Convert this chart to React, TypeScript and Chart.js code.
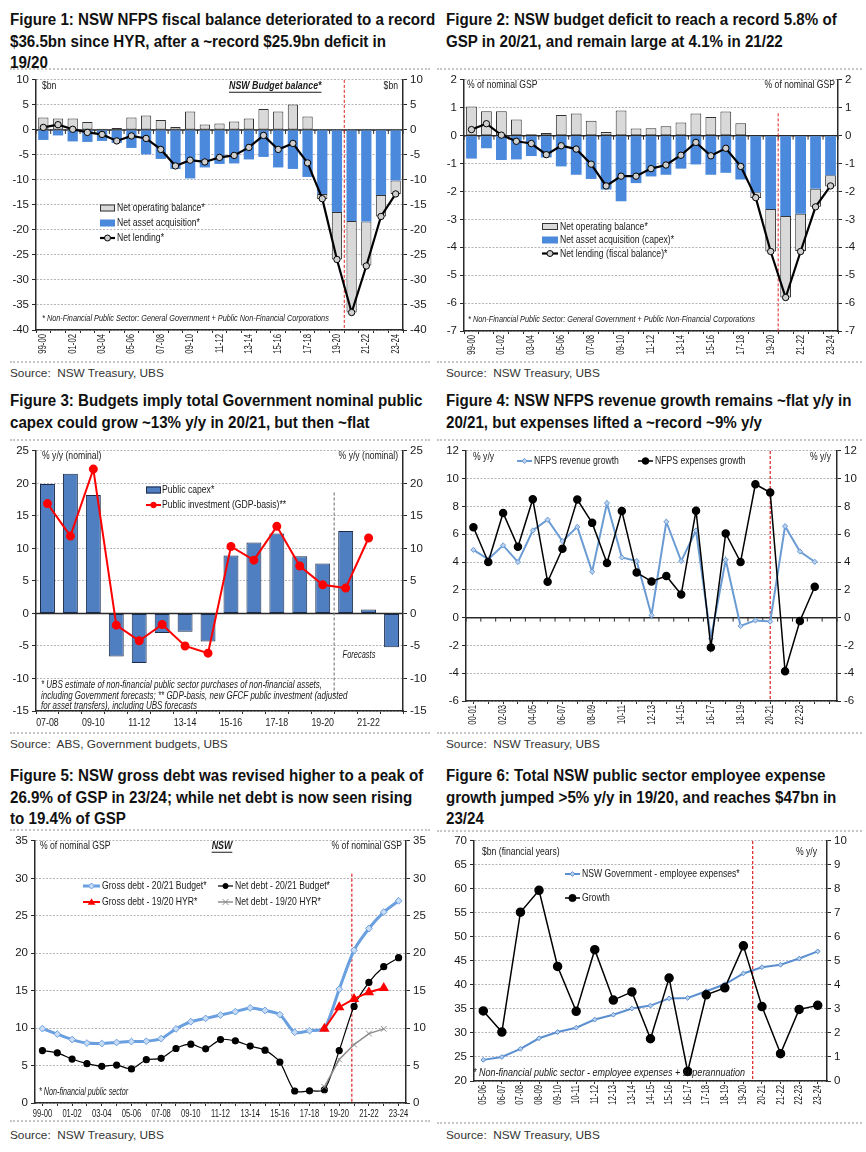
import React, { useEffect, useRef } from 'react';
import { Chart, registerables } from 'chart.js';

Chart.register(...registerables);

const FONT = '"Liberation Sans", Arial, sans-serif';
Chart.defaults.font.family = FONT;

// ---------------- DATA ----------------
const fyLabels = ['99-00','00-01','01-02','02-03','03-04','04-05','05-06','06-07','07-08','08-09','09-10','10-11','11-12','12-13','13-14','14-15','15-16','16-17','17-18','18-19','19-20','20-21','21-22','22-23','23-24'];

// Figure 1 ($bn)
const p1OperatingBalance = [2.5, 2.3, 2.3, 1.6, 0.25, 0.4, 2.5, 2.9, 2.0, 0.6, 3.7, 1.1, 1.3, 1.7, 2.3, 4.2, 3.7, 5.1, 2.7, -1.0, -9.5, -18.3, -8.8, -4.3, -2.7];
const p1NetAssetAcquisition = [-2.0, -1.1, -2.3, -2.4, -2.2, -2.6, -3.6, -4.9, -5.8, -7.8, -9.7, -7.5, -6.8, -6.7, -5.9, -5.4, -7.5, -7.8, -9.4, -12.8, -16.4, -18.2, -18.3, -13.0, -10.1];
const p1NetLending = [0.5, 1.05, 0.13, -0.5, -0.9, -2.2, -1.2, -1.7, -3.9, -7.2, -6.05, -6.4, -5.5, -5.1, -3.5, -1.1, -3.9, -2.7, -6.6, -13.75, -25.9, -36.5, -27.2, -17.3, -12.8];

// Figure 2 (% of GSP)
const p2OperatingBalance = [1.05, 0.88, 0.88, 0.58, 0.05, 0.1, 0.74, 0.8, 0.54, 0.13, 0.9, 0.26, 0.27, 0.34, 0.47, 0.8, 0.67, 0.87, 0.45, -0.2, -1.52, -2.92, -1.33, -0.65, -0.4];
const p2NetAssetAcquisition = [-0.82, -0.45, -0.87, -0.85, -0.73, -0.78, -1.1, -1.4, -1.55, -1.93, -2.35, -1.7, -1.46, -1.4, -1.18, -1.03, -1.4, -1.33, -1.57, -2.03, -2.63, -2.88, -2.8, -1.9, -1.42];
const p2NetLending = [0.22, 0.43, 0.02, -0.2, -0.28, -0.68, -0.36, -0.48, -1.02, -1.8, -1.45, -1.45, -1.18, -1.05, -0.7, -0.24, -0.72, -0.45, -1.1, -2.22, -4.15, -5.8, -4.15, -2.55, -1.8];

// Figure 3 (% y/y)
const p3Labels = ['07-08','08-09','09-10','10-11','11-12','12-13','13-14','14-15','15-16','16-17','17-18','18-19','19-20','20-21','21-22','22-23'];
const p3PublicCapex = [19.9, 21.5, 18.2, -6.6, -7.6, -3.0, -2.8, -4.3, 8.9, 10.9, 12.3, 8.8, 7.7, 12.7, 0.6, -5.2];
const p3PublicInvestment = [16.9, 11.9, 22.2, -1.8, -4.2, -1.7, -5.0, -6.1, 10.3, 8.2, 13.4, 7.3, 4.4, 3.9, 11.6, null];

// Figure 4 (% y/y)
const p4Labels = ['00-01','01-02','02-03','03-04','04-05','05-06','06-07','07-08','08-09','09-10','10-11','11-12','12-13','13-14','14-15','15-16','16-17','17-18','18-19','19-20','20-21','21-22','22-23','23-24',''];
const p4RevenueGrowth = [4.88, 4.2, 5.2, 4.0, 6.27, 7.05, 5.5, 6.53, 3.3, 8.24, 4.33, 4.07, 0.17, 6.9, 4.07, 6.27, -1.5, 4.15, -0.6, -0.2, -0.28, 6.58, 4.76, 4.02];
const p4ExpensesGrowth = [6.5, 4.0, 7.53, 5.1, 8.52, 2.58, 4.95, 8.5, 6.82, 3.93, 7.67, 3.24, 2.6, 3.0, 1.66, 7.7, -2.15, 6.06, 4.0, 9.6, 9.0, -3.86, -0.24, 2.22];

// Figure 5 (% of GSP)
const p5GrossDebtBudget = [9.93, 9.2, 8.47, 8.0, 7.94, 8.08, 8.2, 8.25, 8.6, 9.9, 10.85, 11.3, 11.74, 12.2, 12.7, 12.36, 11.8, 9.44, 9.66, 9.97, 15.2, 20.4, 23.3, 25.5, 27.0];
const p5NetDebtBudget = [7.0, 6.7, 5.87, 5.25, 4.9, 5.07, 4.55, 5.78, 5.96, 7.28, 7.85, 7.24, 8.47, 8.3, 7.6, 7.06, 5.47, 1.6, 1.63, 1.77, 7.0, 12.9, 16.1, 18.2, 19.4];
const p5GrossDebtHYR = [null, null, null, null, null, null, null, null, null, null, null, null, null, null, null, null, null, null, null, 9.9, 12.8, 13.9, 14.8, 15.36, null];
const p5NetDebtHYR = [null, null, null, null, null, null, null, null, null, null, null, null, null, null, null, null, null, null, null, 2.16, 5.8, 7.8, 9.27, 9.9, null];

// Figure 6
const p6Labels = ['05-06','06-07','07-08','08-09','09-10','10-11','11-12','12-13','13-14','14-15','15-16','16-17','17-18','18-19','19-20','20-21','21-22','22-23','23-24'];
const p6EmployeeExpenses = [24.4, 25.0, 26.7, 28.9, 30.2, 31.1, 32.8, 33.8, 35.1, 35.7, 37.2, 37.3, 38.7, 40.15, 42.4, 43.7, 44.2, 45.5, 47.0];
const p6Growth = [2.92, 2.04, 7.03, 7.94, 4.77, 2.9, 5.47, 3.37, 3.71, 1.76, 4.29, 0.4, 3.59, 3.88, 5.63, 3.1, 1.14, 2.98, 3.15];

// ---------------- HELPERS ----------------
type Box = { x0: number; y0: number; w: number; h: number; L: number; R: number; T: number; B: number };
type XL = { labels: string[]; every: number; rotate: boolean; size: number; sx: number; gap: number };

const GRID = '#b4b4bc';
const AXIS = '#2a2a2a';
const TICKC = '#1a1a1a';

function yScale(pos: 'left' | 'right', min: number, max: number, step: number, width: number, grid: boolean, extra: any = {}) {
  return {
    position: pos,
    min,
    max,
    ...extra,
    ticks: { stepSize: step, color: TICKC, font: { family: FONT, size: 11.5 }, padding: 3 },
    grid: {
      display: true,
      drawOnChartArea: grid,
      color: GRID,
      lineWidth: 1,
      drawTicks: true,
      tickLength: 4,
      tickColor: AXIS,
      tickWidth: 1,
    },
    border: { display: true, color: AXIS, width: 1.5, dash: [2, 1.5] },
    afterFit: (s: any) => {
      s.width = width;
    },
  };
}

function xScale(height: number, extra: any = {}) {
  return {
    type: 'category',
    offset: true,
    ...extra,
    ticks: { autoSkip: false, display: false },
    grid: { display: true, drawOnChartArea: false, drawTicks: true, tickLength: 3, tickColor: AXIS },
    border: { display: true, color: AXIS, width: 1.5 },
    afterFit: (s: any) => {
      s.height = height;
    },
  };
}

function baseOptions(b: Box, scales: any) {
  return {
    animation: false,
    responsive: false,
    maintainAspectRatio: false,
    layout: { padding: { top: b.T - b.y0, left: 0, right: 0, bottom: 0 } },
    plugins: { legend: { display: false }, tooltip: { enabled: false } },
    scales,
  };
}

type TOpts = { size?: number; align?: CanvasTextAlign; italic?: boolean; bold?: boolean; color?: string; underline?: boolean; sx?: number };

function text(ctx: CanvasRenderingContext2D, s: string, x: number, y: number, o: TOpts = {}) {
  const size = o.size ?? 11.5;
  const sx = o.sx ?? 0.75;
  ctx.save();
  ctx.translate(x, y);
  ctx.scale(sx, 1);
  ctx.font = `${o.italic ? 'italic ' : ''}${o.bold ? 'bold ' : ''}${size}px ${FONT}`;
  ctx.fillStyle = o.color ?? '#1a1a1a';
  ctx.textAlign = o.align ?? 'left';
  ctx.textBaseline = 'middle';
  ctx.fillText(s, 0, 0);
  if (o.underline) {
    const w = ctx.measureText(s).width;
    const xs = o.align === 'center' ? -w / 2 : o.align === 'right' ? -w : 0;
    ctx.fillRect(xs, size * 0.5, w, 1);
  }
  ctx.restore();
}

function drawXLabels(chart: any, xl: XL) {
  const ctx = chart.ctx as CanvasRenderingContext2D;
  const xs = chart.scales.x;
  const top = chart.chartArea.bottom + xl.gap;
  ctx.save();
  ctx.fillStyle = TICKC;
  ctx.font = `${xl.size}px ${FONT}`;
  xl.labels.forEach((l, i) => {
    if (i % xl.every !== 0 || !l) return;
    const x = xs.getPixelForValue(i);
    ctx.save();
    ctx.translate(x, top);
    if (xl.rotate) {
      ctx.rotate(-Math.PI / 2);
      ctx.scale(xl.sx, 1);
      ctx.textAlign = 'right';
      ctx.textBaseline = 'middle';
    } else {
      ctx.scale(xl.sx, 1);
      ctx.textAlign = 'center';
      ctx.textBaseline = 'top';
    }
    ctx.fillText(l, 0, 0);
    ctx.restore();
  });
  ctx.restore();
}

type Marker = (ctx: CanvasRenderingContext2D, x: number, y: number) => void;

const mCircle = (fill: string, stroke: string, r: number): Marker => (ctx, x, y) => {
  ctx.beginPath();
  ctx.arc(x, y, r, 0, Math.PI * 2);
  ctx.fillStyle = fill;
  ctx.fill();
  ctx.lineWidth = 1;
  ctx.strokeStyle = stroke;
  ctx.stroke();
};
const mDiamond = (fill: string, stroke: string, r: number): Marker => (ctx, x, y) => {
  ctx.beginPath();
  ctx.moveTo(x, y - r);
  ctx.lineTo(x + r, y);
  ctx.lineTo(x, y + r);
  ctx.lineTo(x - r, y);
  ctx.closePath();
  ctx.fillStyle = fill;
  ctx.fill();
  ctx.lineWidth = 1;
  ctx.strokeStyle = stroke;
  ctx.stroke();
};
const mTriangle = (fill: string, r: number): Marker => (ctx, x, y) => {
  ctx.beginPath();
  ctx.moveTo(x, y - r);
  ctx.lineTo(x + r, y + r * 0.7);
  ctx.lineTo(x - r, y + r * 0.7);
  ctx.closePath();
  ctx.fillStyle = fill;
  ctx.fill();
};
const mCross = (stroke: string, r: number): Marker => (ctx, x, y) => {
  ctx.beginPath();
  ctx.moveTo(x - r, y - r);
  ctx.lineTo(x + r, y + r);
  ctx.moveTo(x + r, y - r);
  ctx.lineTo(x - r, y + r);
  ctx.lineWidth = 1;
  ctx.strokeStyle = stroke;
  ctx.stroke();
};

function legendRect(ctx: CanvasRenderingContext2D, x1: number, x2: number, y: number, fill: string, stroke?: string) {
  ctx.fillStyle = fill;
  ctx.fillRect(x1, y - 3.5, x2 - x1, 7);
  if (stroke) {
    ctx.strokeStyle = stroke;
    ctx.lineWidth = 1;
    ctx.strokeRect(x1 + 0.5, y - 3, x2 - x1 - 1, 6);
  }
}
function legendLine(ctx: CanvasRenderingContext2D, x1: number, x2: number, y: number, color: string, width: number, m?: Marker) {
  ctx.beginPath();
  ctx.moveTo(x1, y);
  ctx.lineTo(x2, y);
  ctx.strokeStyle = color;
  ctx.lineWidth = width;
  ctx.stroke();
  if (m) m(ctx, (x1 + x2) / 2, y);
}

function vLine(chart: any, idx: number, vTop: number, vBot: number, color: string, dash: number[], width: number) {
  const ctx = chart.ctx as CanvasRenderingContext2D;
  const x = chart.scales.x.getPixelForValue(idx);
  const y = chart.scales.y;
  ctx.save();
  ctx.strokeStyle = color;
  ctx.lineWidth = width;
  ctx.setLineDash(dash);
  ctx.beginPath();
  ctx.moveTo(x, y.getPixelForValue(vTop));
  ctx.lineTo(x, y.getPixelForValue(vBot));
  ctx.stroke();
  ctx.restore();
}

function zeroLine(chart: any, tickCount: number, tickOffset: number) {
  const ctx = chart.ctx as CanvasRenderingContext2D;
  const y = chart.scales.y.getPixelForValue(0);
  const { left, right } = chart.chartArea;
  ctx.save();
  ctx.strokeStyle = AXIS;
  ctx.lineWidth = 1.5;
  ctx.beginPath();
  ctx.moveTo(left, y);
  ctx.lineTo(right, y);
  ctx.stroke();
  ctx.lineWidth = 1;
  for (let i = 0; i < tickCount; i++) {
    const x = chart.scales.x.getPixelForValue(i + tickOffset);
    ctx.beginPath();
    ctx.moveTo(x, y);
    ctx.lineTo(x, y + 4);
    ctx.stroke();
  }
  ctx.restore();
}

function overlay(b: Box, xl: XL, before: (chart: any) => void, after: (ctx: CanvasRenderingContext2D, chart: any) => void) {
  return {
    id: 'overlay',
    beforeDatasetsDraw(chart: any) {
      before(chart);
    },
    afterDatasetsDraw(chart: any) {
      drawXLabels(chart, xl);
      const ctx = chart.ctx as CanvasRenderingContext2D;
      ctx.save();
      ctx.translate(-b.x0, -b.y0);
      after(ctx, chart);
      ctx.restore();
    },
  };
}

// ---------------- PANEL BOXES ----------------
const B1: Box = { x0: 8, y0: 70, w: 422, h: 292, L: 36, R: 403, T: 76, B: 330 };
const B2: Box = { x0: 444, y0: 70, w: 418, h: 292, L: 464, R: 838, T: 76, B: 331 };
const B3: Box = { x0: 8, y0: 441, w: 422, h: 292, L: 36, R: 403, T: 448, B: 711 };
const B4: Box = { x0: 444, y0: 441, w: 418, h: 292, L: 466, R: 837, T: 448, B: 701 };
const B5: Box = { x0: 8, y0: 831, w: 422, h: 290, L: 35, R: 406, T: 838, B: 1103 };
const B6: Box = { x0: 444, y0: 831, w: 418, h: 291, L: 474, R: 827, T: 838, B: 1081 };

const lw = (b: Box) => b.L - b.x0;
const rw = (b: Box) => b.x0 + b.w - b.R;
const xh = (b: Box) => b.y0 + b.h - b.B;

const LEG = { size: 11.5, sx: 0.75 };
const FOOT = { italic: true, size: 9.5, sx: 0.77 };
const ROT = { rotate: true, size: 11, sx: 0.7, gap: 4 };

// ---------------- CONFIGS ----------------
function config1() {
  const b = B1;
  return {
    type: 'bar',
    data: {
      labels: fyLabels,
      datasets: [
        {
          type: 'line', data: p1NetLending, borderColor: '#000', borderWidth: 2.2, pointRadius: 3.2,
          pointBackgroundColor: '#cfcfcf', pointBorderColor: '#000', pointBorderWidth: 1, stack: 'line', order: 0, tension: 0,
        },
        { data: p1NetAssetAcquisition, backgroundColor: '#4a89dc', borderWidth: 0, stack: 'bars', order: 1, barPercentage: 0.7, categoryPercentage: 1 },
        {
          data: p1OperatingBalance, backgroundColor: '#d9d9d9', borderColor: '#333', borderWidth: 1, borderSkipped: false,
          stack: 'bars', order: 1, barPercentage: 0.7, categoryPercentage: 1,
        },
      ],
    },
    options: baseOptions(b, {
      x: { ...xScale(xh(b)), stacked: true },
      y: { ...yScale('left', -40, 10, 5, lw(b), true), stacked: true },
      y2: yScale('right', -40, 10, 5, rw(b), false),
    }),
    plugins: [
      overlay(
        b,
        { labels: fyLabels, every: 2, ...ROT },
        (c) => {
          zeroLine(c, 26, -0.5);
          vLine(c, 20.5, 10, -40, '#e02020', [3, 2], 1);
        },
        (ctx) => {
          text(ctx, '$bn', 42, 86);
          text(ctx, '$bn', 398, 86, { align: 'right' });
          text(ctx, 'NSW Budget balance*', 229, 86, { bold: true, italic: true, underline: true, size: 11.5, sx: 0.77 });
          text(ctx, '* Non-Financial Public Sector: General Government + Public Non-Financial Corporations', 42, 318, FOOT);
          legendRect(ctx, 100, 115, 208, '#d9d9d9', '#333');
          text(ctx, 'Net operating balance*', 117, 208, LEG);
          legendRect(ctx, 100, 115, 223, '#4a89dc');
          text(ctx, 'Net asset acquisition*', 117, 223, LEG);
          legendLine(ctx, 100, 115, 238, '#000', 2.2, mCircle('#cfcfcf', '#000', 3));
          text(ctx, 'Net lending*', 117, 238, LEG);
        }
      ),
    ],
  };
}

function config2() {
  const b = B2;
  return {
    type: 'bar',
    data: {
      labels: fyLabels,
      datasets: [
        {
          type: 'line', data: p2NetLending, borderColor: '#000', borderWidth: 2.2, pointRadius: 3.2,
          pointBackgroundColor: '#cfcfcf', pointBorderColor: '#000', pointBorderWidth: 1, stack: 'line', order: 0, tension: 0,
        },
        { data: p2NetAssetAcquisition, backgroundColor: '#4a89dc', borderWidth: 0, stack: 'bars', order: 1, barPercentage: 0.72, categoryPercentage: 1 },
        {
          data: p2OperatingBalance, backgroundColor: '#d9d9d9', borderColor: '#333', borderWidth: 1, borderSkipped: false,
          stack: 'bars', order: 1, barPercentage: 0.72, categoryPercentage: 1,
        },
      ],
    },
    options: baseOptions(b, {
      x: { ...xScale(xh(b)), stacked: true },
      y: { ...yScale('left', -7, 2, 1, lw(b), true), stacked: true },
      y2: yScale('right', -7, 2, 1, rw(b), false),
    }),
    plugins: [
      overlay(
        b,
        { labels: fyLabels, every: 2, ...ROT },
        (c) => {
          zeroLine(c, 26, -0.5);
          vLine(c, 20.5, 0.8, -7, '#e02020', [3, 2], 1);
        },
        (ctx) => {
          text(ctx, '% of nominal GSP', 467, 85);
          text(ctx, '% of nominal GSP', 835, 85, { align: 'right' });
          text(ctx, '* Non-Financial Public Sector: General Government + Public Non-Financial Corporations', 468, 319, FOOT);
          legendRect(ctx, 542, 558, 226.5, '#d9d9d9', '#333');
          text(ctx, 'Net operating balance*', 560, 226.5, LEG);
          legendRect(ctx, 542, 558, 240, '#4a89dc');
          text(ctx, 'Net asset acquisition (capex)*', 560, 240, LEG);
          legendLine(ctx, 542, 558, 253.5, '#000', 2.2, mCircle('#cfcfcf', '#000', 3));
          text(ctx, 'Net lending (fiscal balance)*', 560, 253.5, LEG);
        }
      ),
    ],
  };
}

function config3() {
  const b = B3;
  return {
    type: 'bar',
    data: {
      labels: p3Labels,
      datasets: [
        {
          type: 'line', data: p3PublicInvestment, borderColor: '#ff0000', borderWidth: 2, pointRadius: 3.5,
          pointBackgroundColor: '#ff0000', pointBorderColor: '#ff0000', order: 0, tension: 0,
        },
        {
          data: p3PublicCapex, backgroundColor: '#4f7fc0', borderColor: '#1c2b4a', borderWidth: 1, borderSkipped: false,
          order: 1, barPercentage: 0.65, categoryPercentage: 1,
        },
      ],
    },
    options: baseOptions(b, {
      x: xScale(xh(b)),
      y: yScale('left', -15, 25, 5, lw(b), true),
      y2: yScale('right', -15, 25, 5, rw(b), false),
    }),
    plugins: [
      overlay(
        b,
        { labels: p3Labels, every: 2, rotate: false, size: 11.5, sx: 0.77, gap: 6 },
        (c) => {
          zeroLine(c, 0, 0);
          vLine(c, 12.5, 18.6, -12.6, '#808080', [3, 2], 1.2);
        },
        (ctx) => {
          text(ctx, '% y/y (nominal)', 42, 456);
          text(ctx, '% y/y (nominal)', 398, 456, { align: 'right' });
          legendRect(ctx, 146, 161, 490, '#4f7fc0', '#1c2b4a');
          text(ctx, 'Public capex*', 162, 490, LEG);
          legendLine(ctx, 146, 161, 505, '#ff0000', 2, mCircle('#ff0000', '#ff0000', 2.8));
          text(ctx, 'Public investment (GDP-basis)**', 162, 505, LEG);
          text(ctx, 'Forecasts', 359, 655, { italic: true, align: 'center', size: 11, sx: 0.68 });
          const fn = { italic: true, size: 10, sx: 0.8 };
          text(ctx, '* UBS estimate of non-financial public sector purchases of non-financial assets,', 41, 685, fn);
          text(ctx, 'including Government forecasts; ** GDP-basis, new GFCF public investment (adjusted', 41, 696, fn);
          text(ctx, 'for asset transfers), including UBS forecasts', 41, 706, fn);
        }
      ),
    ],
  };
}

function config4() {
  const b = B4;
  return {
    type: 'line',
    data: {
      labels: p4Labels,
      datasets: [
        {
          data: p4ExpensesGrowth, borderColor: '#000', borderWidth: 1.5, pointRadius: 3.5, pointStyle: 'circle',
          pointBackgroundColor: '#000', pointBorderColor: '#000', tension: 0,
        },
        {
          data: p4RevenueGrowth, borderColor: '#6a9bd3', borderWidth: 2, pointRadius: 2.6, pointStyle: 'rectRot',
          pointBackgroundColor: '#b9d0ee', pointBorderColor: '#6a9bd3', pointBorderWidth: 1, tension: 0,
        },
      ],
    },
    options: baseOptions(b, {
      x: xScale(xh(b)),
      y: yScale('left', -6, 12, 2, lw(b), true),
      y2: yScale('right', -6, 12, 2, rw(b), false),
    }),
    plugins: [
      overlay(
        b,
        { labels: p4Labels, every: 2, ...ROT },
        (c) => {
          zeroLine(c, 26, -0.5);
          vLine(c, 20, 12, -6, '#e02020', [3, 2], 1.2);
        },
        (ctx) => {
          text(ctx, '% y/y', 473, 457);
          text(ctx, '% y/y', 831, 457, { align: 'right' });
          legendLine(ctx, 517, 532, 461, '#6a9bd3', 2, mDiamond('#b9d0ee', '#6a9bd3', 2.6));
          text(ctx, 'NFPS revenue growth', 534, 461, LEG);
          legendLine(ctx, 638, 653, 461, '#000', 1.5, mCircle('#000', '#000', 3.3));
          text(ctx, 'NFPS expenses growth', 655, 461, LEG);
        }
      ),
    ],
  };
}

function config5() {
  const b = B5;
  return {
    type: 'line',
    data: {
      labels: fyLabels,
      datasets: [
        {
          data: p5GrossDebtHYR, borderColor: '#ff0000', borderWidth: 2, pointRadius: 4, pointStyle: 'triangle',
          pointBackgroundColor: '#ff0000', pointBorderColor: '#ff0000', tension: 0,
        },
        {
          data: p5NetDebtHYR, borderColor: '#8c8c8c', borderWidth: 1.5, pointRadius: 4, pointStyle: 'crossRot',
          pointBorderColor: '#8c8c8c', pointBorderWidth: 1, tension: 0,
        },
        {
          data: p5GrossDebtBudget, borderColor: '#6a9fe0', borderWidth: 3, pointRadius: 3.4, pointStyle: 'rectRot',
          pointBackgroundColor: '#c9dcf5', pointBorderColor: '#6a9fe0', pointBorderWidth: 1, tension: 0.25,
        },
        {
          data: p5NetDebtBudget, borderColor: '#000', borderWidth: 1.2, pointRadius: 3, pointStyle: 'circle',
          pointBackgroundColor: '#000', pointBorderColor: '#000', tension: 0.25,
        },
      ],
    },
    options: baseOptions(b, {
      x: xScale(xh(b)),
      y: yScale('left', 0, 35, 5, lw(b), true),
      y2: yScale('right', 0, 35, 5, rw(b), false),
    }),
    plugins: [
      overlay(
        b,
        { labels: fyLabels, every: 2, rotate: false, size: 11, sx: 0.69, gap: 5 },
        (c) => {
          vLine(c, 20.85, 30.6, 0, '#e02020', [3, 2], 1.2);
        },
        (ctx) => {
          text(ctx, '% of nominal GSP', 40, 846);
          text(ctx, '% of nominal GSP', 402, 846, { align: 'right' });
          text(ctx, 'NSW', 222, 846, { bold: true, italic: true, underline: true, align: 'center', size: 11.5, sx: 0.77 });
          legendLine(ctx, 83, 100, 886, '#6a9fe0', 3, mDiamond('#c9dcf5', '#6a9fe0', 3));
          text(ctx, 'Gross debt - 20/21 Budget*', 102, 886, LEG);
          legendLine(ctx, 218, 233, 886, '#000', 1.2, mCircle('#000', '#000', 2.6));
          text(ctx, 'Net debt - 20/21 Budget*', 235, 886, LEG);
          legendLine(ctx, 83, 100, 902, '#ff0000', 2, mTriangle('#ff0000', 3.8));
          text(ctx, 'Gross debt - 19/20 HYR*', 102, 902, LEG);
          legendLine(ctx, 218, 233, 902, '#8c8c8c', 1.5, mCross('#8c8c8c', 3));
          text(ctx, 'Net debt - 19/20 HYR*', 235, 902, LEG);
          text(ctx, '* Non-financial public sector', 39, 1092, { italic: true, size: 10, sx: 0.72 });
        }
      ),
    ],
  };
}

function config6() {
  const b = B6;
  return {
    type: 'line',
    data: {
      labels: p6Labels,
      datasets: [
        {
          data: p6Growth, yAxisID: 'y2', borderColor: '#000', borderWidth: 1.5, pointRadius: 4, pointStyle: 'circle',
          pointBackgroundColor: '#000', pointBorderColor: '#000', tension: 0,
        },
        {
          data: p6EmployeeExpenses, yAxisID: 'y', borderColor: '#5b8fd0', borderWidth: 2, pointRadius: 2.4, pointStyle: 'rectRot',
          pointBackgroundColor: '#b9d0ee', pointBorderColor: '#5b8fd0', pointBorderWidth: 1, tension: 0,
        },
      ],
    },
    options: baseOptions(b, {
      x: xScale(xh(b)),
      y: yScale('left', 20, 70, 5, lw(b), true),
      y2: yScale('right', 0, 10, 1, rw(b), false),
    }),
    plugins: [
      overlay(
        b,
        { labels: p6Labels, every: 1, ...ROT },
        (c) => {
          vLine(c, 14.5, 70, 20, '#e02020', [3, 2], 1.2);
        },
        (ctx) => {
          text(ctx, '$bn (financial years)', 482, 852);
          text(ctx, '% y/y', 817, 852, { align: 'right' });
          legendLine(ctx, 565, 580, 874, '#5b8fd0', 2, mDiamond('#b9d0ee', '#5b8fd0', 2.4));
          text(ctx, 'NSW Government - employee expenses*', 582, 874, LEG);
          legendLine(ctx, 565, 580, 898, '#000', 1.5, mCircle('#000', '#000', 3.6));
          text(ctx, 'Growth', 582, 898, LEG);
          text(ctx, '* Non-financial public sector - employee expenses + superannuation', 473, 1073, { italic: true, size: 10, sx: 0.9 });
        }
      ),
    ],
  };
}

// ---------------- COMPONENTS ----------------
function ChartCanvas({ b, make }: { b: Box; make: () => any }) {
  const ref = useRef<HTMLCanvasElement>(null);
  useEffect(() => {
    if (!ref.current) return;
    const chart = new Chart(ref.current, make());
    return () => chart.destroy();
  }, []);
  return (
    <canvas
      ref={ref}
      width={b.w}
      height={b.h}
      style={{ position: 'absolute', left: b.x0, top: b.y0, width: b.w, height: b.h }}
    />
  );
}

function Title({ x, y, lines }: { x: number; y: number; lines: string[] }) {
  return (
    <div
      style={{
        position: 'absolute',
        left: x,
        top: y,
        font: `bold 16px ${FONT}`,
        lineHeight: '21.5px',
        color: '#111',
        whiteSpace: 'nowrap',
        transform: 'scaleX(0.945)',
        transformOrigin: 'left top',
      }}
    >
      {lines.map((l, i) => (
        <div key={i}>{l}</div>
      ))}
    </div>
  );
}

function Source({ x, y, label }: { x: number; y: number; label: string }) {
  return (
    <div
      style={{
        position: 'absolute',
        left: x,
        top: y,
        font: `11.8px ${FONT}`,
        lineHeight: '14px',
        color: '#333',
        whiteSpace: 'pre',
      }}
    >
      {label}
    </div>
  );
}

function Rule({ x, y, w }: { x: number; y: number; w: number }) {
  return <div style={{ position: 'absolute', left: x, top: y, width: w, height: 0, borderTop: '2px dotted #c6c6c6' }} />;
}

export default function App() {
  return (
    <div style={{ position: 'absolute', left: 0, top: 0, width: 866, height: 1152, background: '#fff', overflow: 'hidden' }}>
      <Title x={10} y={9} lines={['Figure 1: NSW NFPS fiscal balance deteriorated to a record', '$36.5bn since HYR, after a ~record $25.9bn deficit in', '19/20']} />
      <Title x={446} y={9} lines={['Figure 2: NSW budget deficit to reach a record 5.8% of', 'GSP in 20/21, and remain large at 4.1% in 21/22']} />
      <Title x={10} y={390} lines={['Figure 3: Budgets imply total Government nominal public', 'capex could grow ~13% y/y in 20/21, but then ~flat']} />
      <Title x={446} y={390} lines={['Figure 4: NSW NFPS revenue growth remains ~flat y/y in', '20/21, but expenses lifted a ~record ~9% y/y']} />
      <Title x={10} y={765} lines={['Figure 5: NSW gross debt was revised higher to a peak of', '26.9% of GSP in 23/24; while net debt is now seen rising', 'to 19.4% of GSP']} />
      <Title x={446} y={765} lines={['Figure 6: Total NSW public sector employee expense', 'growth jumped >5% y/y in 19/20, and reaches $47bn in', '23/24']} />

      <Rule x={10} y={68} w={420} />
      <Rule x={437} y={68} w={425} />
      <Rule x={10} y={361} w={420} />
      <Rule x={437} y={361} w={425} />
      <Rule x={10} y={439} w={420} />
      <Rule x={437} y={439} w={425} />
      <Rule x={10} y={732} w={420} />
      <Rule x={437} y={732} w={425} />
      <Rule x={10} y={829} w={420} />
      <Rule x={437} y={830} w={425} />
      <Rule x={10} y={1120} w={420} />
      <Rule x={437} y={1122} w={425} />

      <ChartCanvas b={B1} make={config1} />
      <ChartCanvas b={B2} make={config2} />
      <ChartCanvas b={B3} make={config3} />
      <ChartCanvas b={B4} make={config4} />
      <ChartCanvas b={B5} make={config5} />
      <ChartCanvas b={B6} make={config6} />

      <Source x={10} y={366} label={'Source:  NSW Treasury, UBS'} />
      <Source x={446} y={366} label={'Source:  NSW Treasury, UBS'} />
      <Source x={10} y={737} label={'Source:  ABS, Government budgets, UBS'} />
      <Source x={446} y={737} label={'Source:  NSW Treasury, UBS'} />
      <Source x={10} y={1128} label={'Source:  NSW Treasury, UBS'} />
      <Source x={446} y={1128} label={'Source:  NSW Treasury, UBS'} />
    </div>
  );
}
